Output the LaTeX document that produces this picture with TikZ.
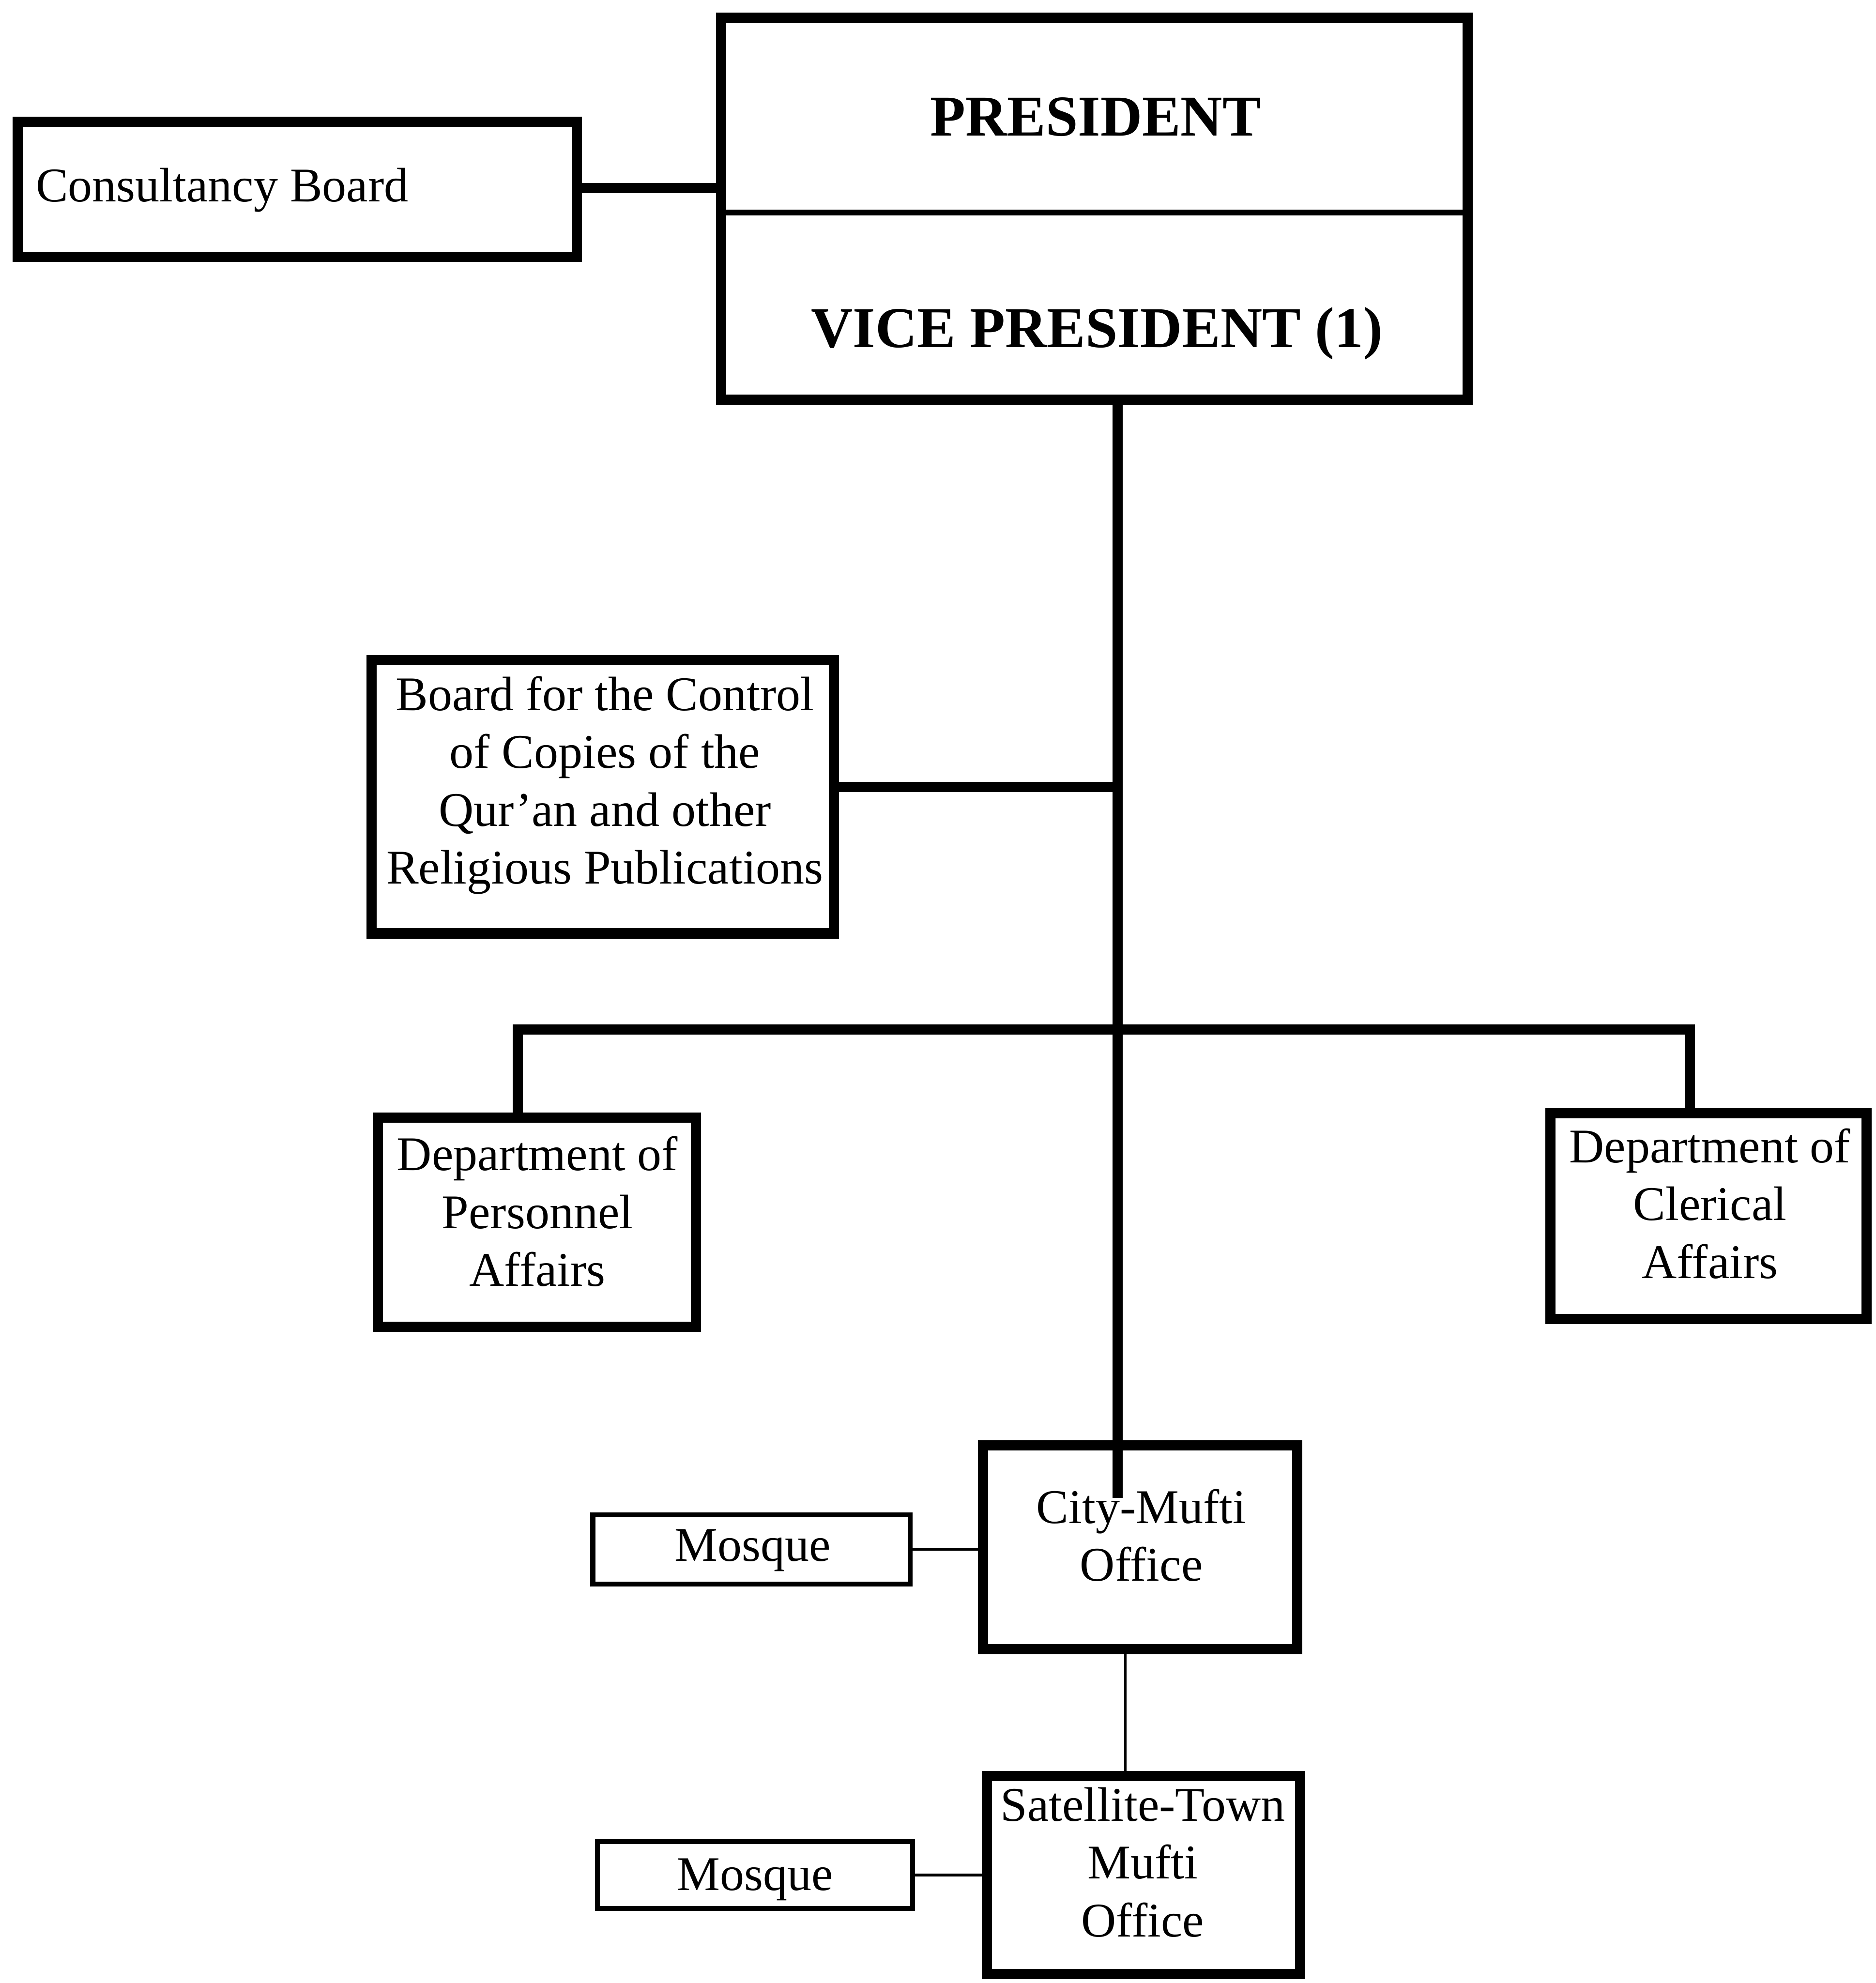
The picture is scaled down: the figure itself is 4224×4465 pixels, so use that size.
\documentclass[tikz,border=0pt]{standalone}
\usepackage{fontspec}
\setmainfont{Liberation Serif}
\begin{document}
\begin{tikzpicture}[x=0.01cm, y=-0.01cm,
  unit/.style={draw=black, line width=2.3mm, inner sep=0pt, fill=white},
  minor/.style={draw=black, line width=1.1mm, inner sep=0pt, fill=white},
  label/.style={inner sep=0pt, align=center, font=\fontsize{31pt}{37pt}\selectfont},
  head/.style={inner sep=0pt, font=\fontsize{37pt}{44pt}\selectfont\bfseries},
  heavy/.style={line width=2.3mm},
  light/.style={line width=0.6mm},
  divider/.style={line width=1.3mm}]

\useasboundingbox (0,0) rectangle (4224,4465);

% boxes
\node[unit, minimum width=12.58cm, minimum height=3.04cm] (cons) at (669,426) {};
\node[unit, minimum width=16.80cm, minimum height=8.59cm] (exec) at (2464,470) {};
\node[unit, minimum width=10.41cm, minimum height=6.15cm] (board) at (1357,1794) {};
\node[unit, minimum width=7.16cm, minimum height=4.70cm] (pers) at (1209,2752) {};
\node[unit, minimum width=7.11cm, minimum height=4.63cm] (cler) at (3847,2738) {};
\node[unit, minimum width=7.07cm, minimum height=4.58cm] (city) at (2567,3484) {};
\node[unit, minimum width=7.05cm, minimum height=4.46cm] (sat) at (2575,4222) {};
\node[minor, minimum width=7.14cm, minimum height=1.56cm] (mos1) at (1692,3489) {};
\node[minor, minimum width=7.09cm, minimum height=1.50cm] (mos2) at (1700,4222) {};

% split between president and vice president
\draw[divider] (exec.west |- 0,479) -- (exec.east |- 0,479);

% connectors
\coordinate (cityin) at (2516,3373);
\coordinate (bj) at (2516,1772);
\coordinate (barL) at (1166,2318);
\coordinate (barR) at (3805,2318);

\draw[heavy] (cons.east |- 0,423) -- (exec.west |- 0,423);
\draw[heavy] (bj -| board.east) -- (bj);
\draw[heavy] (pers.north -| barL) -- (barL) -- (barR) -- (barR |- cler.north);
\draw[light] (mos1.east) -- (mos1.east -| city.west);
\draw[light] ([xshift=-0.33cm]city.south) -- ([xshift=-0.33cm]city.south |- sat.north);
\draw[light] (mos2.east) -- (mos2.east -| sat.west);

% texts
\node[label, anchor=base west] (constxt) at (80,454) {Consultancy Board};
\node[head, anchor=base] (pres) at (2467,306) {PRESIDENT};
\node[head, anchor=base] (vp) at (2470,782) {VICE PRESIDENT (1)};
\node[label] (boardtxt) at (1362,1768) {Board for the Control\\of Copies of the\\Qur’an and other\\Religious Publications};
\node[label] (perstxt) at (1210,2728) {Department of\\Personnel\\Affairs};
\node[label] (clertxt) at (3850,2710) {Department of\\Clerical\\Affairs};
\node[label] (citytxt) at (2570,3457) {City-Mufti\\Office};
\node[label] (sattxt) at (2573,4193) {Satellite-Town\\Mufti\\Office};
\node[label] (mos1txt) at (1695,3491) {Mosque};
\node[label] (mos2txt) at (1700,4232) {Mosque};

% trunk line from the executive down into the city office
\draw[heavy] (cityin |- exec.south) -- (cityin);
\end{tikzpicture}
\end{document}
